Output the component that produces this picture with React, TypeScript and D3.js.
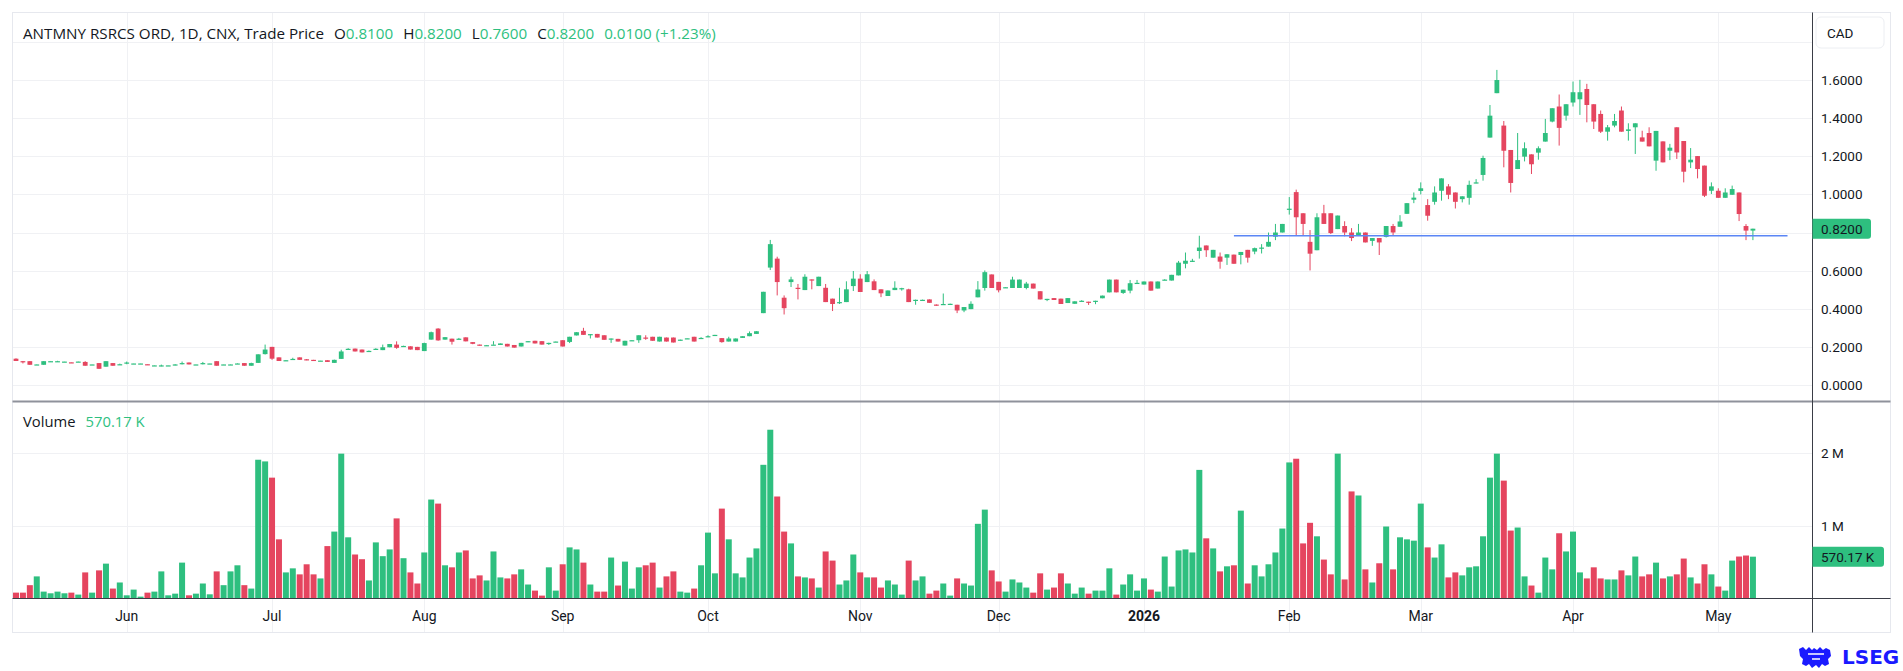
import * as d3 from "d3";

// OHLC values, one per trading day (8 May 2025 .. 8 May 2026)
const opens = [
  0.138, 0.125, 0.125, 0.107, 0.106, 0.124, 0.124, 0.122, 0.119, 0.122,
  0.121, 0.107, 0.115, 0.096, 0.115, 0.108, 0.117, 0.112, 0.112, 0.109,
  0.102, 0.102, 0.102, 0.103, 0.114, 0.118, 0.107, 0.114, 0.112, 0.125,
  0.107, 0.107, 0.112, 0.115, 0.101, 0.116, 0.162, 0.2, 0.145, 0.129,
  0.136, 0.145, 0.135, 0.132, 0.127, 0.13, 0.116, 0.137, 0.188, 0.191,
  0.186, 0.178, 0.189, 0.183, 0.198, 0.212, 0.204, 0.203, 0.2, 0.178,
  0.238, 0.296, 0.238, 0.243, 0.242, 0.25, 0.225, 0.212,
  0.208, 0.211, 0.21, 0.216, 0.21, 0.202, 0.225, 0.232, 0.23, 0.22,
  0.226, 0.235, 0.226, 0.26, 0.284, 0.265, 0.268, 0.261, 0.243, 0.242,
  0.207, 0.232, 0.235, 0.249, 0.253, 0.228, 0.249, 0.249, 0.233, 0.244,
  0.253, 0.246, 0.251, 0.258, 0.246, 0.228, 0.228, 0.247, 0.256, 0.268,
  0.377, 0.616, 0.663, 0.458, 0.54, 0.51, 0.498, 0.554, 0.519, 0.51,
  0.453, 0.43, 0.435, 0.519, 0.558, 0.54, 0.544, 0.502, 0.467, 0.498,
  0.505, 0.502, 0.446, 0.446, 0.449, 0.422,
  0.421, 0.425, 0.421, 0.391, 0.398, 0.46, 0.509, 0.58, 0.541, 0.51,
  0.509, 0.509, 0.509, 0.532, 0.492, 0.449, 0.456, 0.453, 0.43, 0.426,
  0.44, 0.437, 0.441, 0.455, 0.486, 0.553, 0.483, 0.495, 0.535, 0.527,
  0.543, 0.506, 0.552, 0.548, 0.575, 0.636, 0.651, 0.703, 0.732, 0.668,
  0.674, 0.668, 0.684, 0.682, 0.709, 0.7, 0.72, 0.726, 0.778, 0.8,
  0.923, 1.012, 0.901, 0.751, 0.707, 0.901, 0.901, 0.818, 0.834, 0.8,
  0.783, 0.8, 0.756, 0.771, 0.777, 0.834, 0.83, 0.898,
  0.972, 1.018, 0.944, 0.961, 1.019, 1.042, 1.01, 0.975, 0.982, 1.058,
  1.102, 1.298, 1.531, 1.361, 1.233, 1.133, 1.198, 1.21, 1.219, 1.277,
  1.382, 1.461, 1.413, 1.482, 1.499, 1.553, 1.473, 1.422, 1.329, 1.361,
  1.44, 1.333, 1.352, 1.299, 1.322, 1.177, 1.278, 1.229, 1.352, 1.28,
  1.168, 1.201, 1.151, 1.019, 1.019, 0.982, 0.998, 1.01, 0.834, 0.81,
];

const highs = [
  0.14, 0.126, 0.125, 0.108, 0.125, 0.126, 0.127, 0.123, 0.119, 0.124,
  0.125, 0.108, 0.115, 0.125, 0.115, 0.112, 0.123, 0.113, 0.113, 0.109,
  0.103, 0.107, 0.103, 0.109, 0.123, 0.118, 0.108, 0.121, 0.113, 0.125,
  0.108, 0.109, 0.115, 0.115, 0.117, 0.161, 0.212, 0.2, 0.145, 0.131,
  0.143, 0.145, 0.136, 0.132, 0.128, 0.13, 0.133, 0.185, 0.193, 0.191,
  0.186, 0.181, 0.193, 0.212, 0.215, 0.229, 0.206, 0.203, 0.2, 0.222,
  0.28, 0.298, 0.251, 0.243, 0.247, 0.25, 0.225, 0.212,
  0.21, 0.23, 0.218, 0.216, 0.21, 0.221, 0.23, 0.232, 0.23, 0.222,
  0.228, 0.235, 0.253, 0.277, 0.3, 0.267, 0.268, 0.261, 0.244, 0.242,
  0.232, 0.235, 0.261, 0.261, 0.253, 0.253, 0.249, 0.249, 0.238, 0.245,
  0.253, 0.251, 0.261, 0.263, 0.246, 0.253, 0.244, 0.256, 0.281, 0.282,
  0.489, 0.761, 0.673, 0.47, 0.568, 0.53, 0.581, 0.554, 0.568, 0.53,
  0.453, 0.51, 0.544, 0.598, 0.581, 0.598, 0.554, 0.502, 0.496, 0.544,
  0.51, 0.505, 0.448, 0.448, 0.449, 0.423,
  0.48, 0.427, 0.421, 0.409, 0.439, 0.545, 0.601, 0.58, 0.541, 0.513,
  0.568, 0.553, 0.541, 0.532, 0.492, 0.452, 0.456, 0.453, 0.456, 0.439,
  0.445, 0.437, 0.442, 0.469, 0.553, 0.553, 0.5, 0.551, 0.551, 0.543,
  0.543, 0.543, 0.555, 0.578, 0.651, 0.695, 0.662, 0.783, 0.732, 0.709,
  0.695, 0.686, 0.684, 0.698, 0.709, 0.721, 0.739, 0.8, 0.845, 0.845,
  0.986, 1.025, 0.901, 0.813, 0.901, 0.945, 0.901, 0.889, 0.859, 0.823,
  0.845, 0.8, 0.771, 0.771, 0.834, 0.845, 0.891, 0.954,
  1.01, 1.063, 0.975, 1.042, 1.084, 1.054, 1.01, 0.99, 1.072, 1.08,
  1.203, 1.469, 1.653, 1.385, 1.233, 1.322, 1.273, 1.21, 1.252, 1.396,
  1.452, 1.524, 1.473, 1.592, 1.601, 1.58, 1.473, 1.44, 1.364, 1.422,
  1.461, 1.373, 1.373, 1.334, 1.352, 1.333, 1.278, 1.265, 1.352, 1.28,
  1.243, 1.201, 1.151, 1.063, 1.032, 1.032, 1.046, 1.01, 0.844, 0.82,
];

const lows = [
  0.126, 0.113, 0.106, 0.106, 0.106, 0.124, 0.122, 0.122, 0.117, 0.122,
  0.101, 0.107, 0.085, 0.096, 0.101, 0.106, 0.109, 0.112, 0.112, 0.107,
  0.101, 0.098, 0.102, 0.103, 0.108, 0.108, 0.107, 0.108, 0.112, 0.101,
  0.107, 0.107, 0.112, 0.101, 0.101, 0.116, 0.16, 0.132, 0.126, 0.128,
  0.135, 0.132, 0.13, 0.127, 0.127, 0.121, 0.116, 0.137, 0.186, 0.176,
  0.171, 0.177, 0.187, 0.183, 0.198, 0.19, 0.204, 0.186, 0.183, 0.178,
  0.238, 0.232, 0.238, 0.212, 0.238, 0.229, 0.214, 0.207,
  0.207, 0.211, 0.21, 0.202, 0.196, 0.202, 0.225, 0.218, 0.212, 0.21,
  0.226, 0.202, 0.22, 0.26, 0.263, 0.244, 0.249, 0.237, 0.221, 0.228,
  0.207, 0.232, 0.221, 0.237, 0.232, 0.228, 0.228, 0.223, 0.233, 0.243,
  0.228, 0.246, 0.251, 0.258, 0.222, 0.228, 0.228, 0.247, 0.256, 0.268,
  0.377, 0.603, 0.47, 0.37, 0.514, 0.449, 0.498, 0.502, 0.519, 0.435,
  0.388, 0.425, 0.435, 0.493, 0.488, 0.54, 0.498, 0.461, 0.467, 0.498,
  0.495, 0.435, 0.421, 0.446, 0.431, 0.416,
  0.421, 0.425, 0.377, 0.382, 0.398, 0.46, 0.495, 0.509, 0.486, 0.51,
  0.509, 0.509, 0.502, 0.506, 0.449, 0.44, 0.446, 0.425, 0.43, 0.426,
  0.439, 0.42, 0.424, 0.455, 0.486, 0.486, 0.478, 0.481, 0.53, 0.527,
  0.495, 0.506, 0.55, 0.548, 0.575, 0.612, 0.646, 0.663, 0.672, 0.668,
  0.61, 0.63, 0.636, 0.633, 0.642, 0.686, 0.69, 0.726, 0.76, 0.8,
  0.894, 0.783, 0.783, 0.601, 0.707, 0.845, 0.792, 0.818, 0.78, 0.755,
  0.783, 0.748, 0.73, 0.682, 0.774, 0.783, 0.83, 0.898,
  0.954, 1.0, 0.862, 0.946, 0.967, 0.975, 0.926, 0.958, 0.946, 1.058,
  1.072, 1.298, 1.531, 1.142, 1.01, 1.133, 1.173, 1.107, 1.182, 1.277,
  1.378, 1.256, 1.387, 1.461, 1.417, 1.378, 1.343, 1.322, 1.282, 1.352,
  1.329, 1.282, 1.212, 1.277, 1.252, 1.124, 1.168, 1.18, 1.186, 1.063,
  1.138, 1.084, 0.986, 1.002, 0.982, 0.982, 0.998, 0.86, 0.76, 0.76,
];

const closes = [
  0.126, 0.122, 0.106, 0.108, 0.125, 0.125, 0.125, 0.123, 0.118, 0.123,
  0.101, 0.108, 0.085, 0.125, 0.101, 0.109, 0.118, 0.113, 0.113, 0.108,
  0.103, 0.103, 0.103, 0.108, 0.115, 0.108, 0.108, 0.115, 0.113, 0.101,
  0.108, 0.108, 0.113, 0.101, 0.115, 0.161, 0.186, 0.138, 0.126, 0.13,
  0.137, 0.132, 0.13, 0.127, 0.128, 0.121, 0.132, 0.176, 0.19, 0.176,
  0.171, 0.179, 0.19, 0.198, 0.215, 0.195, 0.205, 0.186, 0.183, 0.22,
  0.277, 0.234, 0.251, 0.227, 0.243, 0.229, 0.216, 0.207,
  0.209, 0.212, 0.218, 0.202, 0.196, 0.221, 0.23, 0.218, 0.212, 0.221,
  0.228, 0.202, 0.253, 0.277, 0.263, 0.267, 0.249, 0.237, 0.244, 0.228,
  0.232, 0.235, 0.261, 0.246, 0.232, 0.253, 0.228, 0.223, 0.238, 0.245,
  0.228, 0.247, 0.256, 0.263, 0.225, 0.244, 0.244, 0.256, 0.272, 0.282,
  0.489, 0.739, 0.54, 0.403, 0.554, 0.508, 0.568, 0.548, 0.568, 0.435,
  0.425, 0.435, 0.502, 0.558, 0.488, 0.581, 0.498, 0.481, 0.496, 0.51,
  0.508, 0.435, 0.447, 0.447, 0.431, 0.417,
  0.425, 0.426, 0.391, 0.409, 0.426, 0.501, 0.592, 0.509, 0.497, 0.513,
  0.553, 0.553, 0.532, 0.506, 0.449, 0.452, 0.446, 0.425, 0.456, 0.439,
  0.442, 0.434, 0.442, 0.469, 0.553, 0.486, 0.5, 0.534, 0.536, 0.543,
  0.495, 0.543, 0.553, 0.578, 0.642, 0.652, 0.652, 0.721, 0.707, 0.709,
  0.647, 0.686, 0.636, 0.698, 0.668, 0.718, 0.721, 0.751, 0.8, 0.845,
  0.925, 0.88, 0.845, 0.689, 0.88, 0.845, 0.797, 0.889, 0.8, 0.771,
  0.8, 0.748, 0.771, 0.748, 0.834, 0.8, 0.858, 0.954,
  0.983, 1.032, 0.888, 1.01, 1.084, 0.998, 0.961, 0.99, 1.05, 1.063,
  1.191, 1.413, 1.6, 1.229, 1.06, 1.18, 1.242, 1.158, 1.242, 1.322,
  1.452, 1.349, 1.473, 1.536, 1.536, 1.469, 1.382, 1.329, 1.352, 1.385,
  1.329, 1.341, 1.373, 1.277, 1.252, 1.333, 1.168, 1.245, 1.22, 1.119,
  1.182, 1.133, 0.993, 1.042, 0.982, 1.01, 1.028, 0.897, 0.81, 0.82,
];

// volume in millions of shares
const volumes = [
  0.074, 0.074, 0.177, 0.298, 0.088, 0.065, 0.088, 0.065, 0.074, 0.047,
  0.353, 0.074, 0.381, 0.474, 0.13, 0.214, 0.037, 0.116, 0.019, 0.074,
  0.088, 0.367, 0.037, 0.06, 0.488, 0.037, 0.06, 0.2, 0.051, 0.367,
  0.177, 0.367, 0.451, 0.177, 0.13, 1.907, 1.884, 1.66, 0.809, 0.353,
  0.409, 0.326, 0.465, 0.326, 0.27, 0.716, 0.916, 1.991, 0.837, 0.6,
  0.535, 0.242, 0.767, 0.577, 0.67, 1.098, 0.549, 0.353, 0.2, 0.628,
  1.358, 1.302, 0.451, 0.423, 0.628, 0.656, 0.27, 0.312,
  0.242, 0.642, 0.284, 0.27, 0.326, 0.395, 0.186, 0.102, 0.033, 0.423,
  0.102, 0.465, 0.698, 0.67, 0.488, 0.186, 0.088, 0.088, 0.558, 0.172,
  0.502, 0.13, 0.423, 0.451, 0.488, 0.144, 0.298, 0.367, 0.088, 0.074,
  0.13, 0.451, 0.902, 0.34, 1.233, 0.809, 0.34, 0.284, 0.558, 0.684,
  1.837, 2.321, 1.4, 0.916, 0.753, 0.298, 0.284, 0.27, 0.144, 0.642,
  0.516, 0.186, 0.242, 0.6, 0.353, 0.284, 0.284, 0.144, 0.242, 0.186,
  0.047, 0.516, 0.242, 0.298, 0.06, 0.102,
  0.2, 0.033, 0.27, 0.2, 0.172, 1.023, 1.219, 0.381, 0.228, 0.088,
  0.256, 0.214, 0.144, 0.074, 0.34, 0.116, 0.144, 0.34, 0.2, 0.06,
  0.144, 0.06, 0.102, 0.102, 0.409, 0.047, 0.186, 0.326, 0.102, 0.27,
  0.116, 0.088, 0.572, 0.158, 0.656, 0.67, 0.628, 1.767, 0.823, 0.684,
  0.367, 0.437, 0.451, 1.205, 0.2, 0.451, 0.298, 0.465, 0.628, 0.958,
  1.87, 1.921, 0.753, 1.037, 0.851, 0.53, 0.326, 1.991, 0.256, 1.47,
  1.414, 0.395, 0.214, 0.479, 0.986, 0.395, 0.837, 0.809,
  0.791, 1.302, 0.698, 0.558, 0.74, 0.284, 0.353, 0.312, 0.423, 0.437,
  0.851, 1.66, 1.991, 1.619, 0.93, 0.972, 0.298, 0.172, 0.074, 0.558,
  0.395, 0.893, 0.642, 0.916, 0.353, 0.27, 0.423, 0.27, 0.256, 0.256,
  0.381, 0.312, 0.572, 0.298, 0.326, 0.488, 0.27, 0.298, 0.326, 0.544,
  0.284, 0.2, 0.465, 0.326, 0.158, 0.102, 0.516, 0.572, 0.586, 0.57,
];

// time axis: first trading day of each month
const monthLabels = ["Jun", "Jul", "Aug", "Sep", "Oct", "Nov", "Dec", "2026", "Feb", "Mar", "Apr", "May"];
const monthIndex = [16, 37, 59, 79, 100, 122, 142, 163, 184, 203, 225, 246];

const priceTicks = [0, 0.2, 0.4, 0.6, 0.8, 1.0, 1.2, 1.4, 1.6];
const priceGrid = [0, 0.2, 0.4, 0.6, 0.8, 1.0, 1.2, 1.4, 1.6, 1.8];
const volumeTicks = [1, 2];

// horizontal line drawn on the chart
const levelPrice = 0.783;
const levelFrom = 176;
const levelTo = 256;

const lastVolumeText = "570.17 K";

const GREEN = "#2ebf7f";
const RED = "#e5455f";
const TEXT = "#131722";
const GRID = "#f0f1f4";
const FONT = "Roboto, 'Liberation Sans', sans-serif";
const LEGEND_FONT = "'Open Sans', Roboto, sans-serif";

export default function App() {
  const W = 1903;
  const H = 671;
  const left = 12.5;
  const right = 1890.5;
  const axisX = 1812.5;
  const top = 12.5;
  const bottom = 632.5;
  const paneSplit = 401.5;
  const volBase = 598;

  const n = closes.length;
  const x = d3.scaleLinear().domain([0, n - 1]).range([16, 16 + 6.92 * (n - 1)]);
  const yP = d3.scaleLinear().domain([0, 1.8]).range([385, 41.9]);
  const yV = d3.scaleLinear().domain([0, 2]).range([volBase, 453]);
  const f4 = d3.format(".4f");

  const candles = closes.map((c, i) => ({
    i,
    o: opens[i],
    h: highs[i],
    l: lows[i],
    c,
    v: volumes[i],
    up: c >= opens[i],
  }));

  const last = candles[n - 1];
  const lastY = yP(last.c);
  const lastVY = yV(last.v);

  return (
    <svg
      width={W}
      height={H}
      style={{ position: "absolute", left: 0, top: 0, display: "block", background: "#fff" }}
      fontFamily={FONT}
    >
      {/* grid */}
      {priceGrid.map((p) => (
        <line key={"pg" + p} x1={left} x2={axisX} y1={Math.round(yP(p)) + 0.5} y2={Math.round(yP(p)) + 0.5} stroke={GRID} />
      ))}
      {volumeTicks.map((v) => (
        <line key={"vg" + v} x1={left} x2={axisX} y1={Math.round(yV(v)) + 0.5} y2={Math.round(yV(v)) + 0.5} stroke={GRID} />
      ))}
      {monthIndex.map((mi) => (
        <line key={"mg" + mi} x1={Math.round(x(mi)) + 0.5} x2={Math.round(x(mi)) + 0.5} y1={top} y2={bottom} stroke={GRID} />
      ))}

      {/* frame */}
      <rect x={left} y={top} width={right - left} height={bottom - top} fill="none" stroke="#e6e8ee" />
      <line x1={left} x2={right} y1={paneSplit} y2={paneSplit} stroke="#8f929b" strokeWidth={2} />
      <line x1={left} x2={right} y1={volBase + 0.5} y2={volBase + 0.5} stroke="#3a3d46" />
      <line x1={axisX} x2={axisX} y1={top} y2={bottom} stroke="#3a3d46" />

      {/* volume bars */}
      {candles.map((d) => (
        <rect
          key={"v" + d.i}
          x={x(d.i) - 3}
          y={yV(d.v)}
          width={6}
          height={volBase - yV(d.v)}
          fill={d.up ? GREEN : RED}
        />
      ))}

      {/* candles */}
      {candles.map((d) => {
        const col = d.up ? GREEN : RED;
        const yo = yP(d.o);
        const yc = yP(d.c);
        const bt = Math.min(yo, yc);
        const bh = Math.max(1.2, Math.abs(yo - yc));
        return (
          <g key={"c" + d.i}>
            <line x1={x(d.i)} x2={x(d.i)} y1={yP(d.h)} y2={yP(d.l)} stroke={col} strokeWidth={1} />
            <rect x={x(d.i) - 2.4} y={bt} width={4.8} height={bh} fill={col} />
          </g>
        );
      })}

      {/* horizontal level */}
      <line
        x1={x(levelFrom)}
        x2={x(levelTo)}
        y1={yP(levelPrice)}
        y2={yP(levelPrice)}
        stroke="#5b86f5"
        strokeWidth={1.6}
      />

      {/* price axis */}
      <rect x={1816} y={17} width={68} height={31} rx={5} fill="#fff" stroke="#eceef2" />
      <text x={1827} y={33} dominantBaseline="central" fontSize={13.5} fill={TEXT}>
        CAD
      </text>
      {priceTicks.map((p) => (
        <text key={"pt" + p} x={1821} y={yP(p)} dominantBaseline="central" fontSize={13.5} fill={TEXT}>
          {f4(p)}
        </text>
      ))}
      <path
        d={`M${axisX},${lastY - 10} H1868 a3,3 0 0 1 3,3 V${lastY + 7} a3,3 0 0 1 -3,3 H${axisX} Z`}
        fill={GREEN}
      />
      <text x={1821} y={lastY} dominantBaseline="central" fontSize={13.5} fill={TEXT}>
        {f4(last.c)}
      </text>

      {/* volume axis */}
      {volumeTicks.map((v) => (
        <text key={"vt" + v} x={1821} y={yV(v)} dominantBaseline="central" fontSize={13.5} fill={TEXT}>
          {v + " M"}
        </text>
      ))}
      <path
        d={`M${axisX},${lastVY - 10} H1881 a3,3 0 0 1 3,3 V${lastVY + 7} a3,3 0 0 1 -3,3 H${axisX} Z`}
        fill={GREEN}
      />
      <text x={1821} y={lastVY} dominantBaseline="central" fontSize={13.5} fill={TEXT}>
        {lastVolumeText}
      </text>

      {/* time axis */}
      {monthLabels.map((m, k) => (
        <text
          key={"m" + m}
          x={x(monthIndex[k])}
          y={616}
          textAnchor="middle"
          dominantBaseline="central"
          fontSize={14}
          fontWeight={m === "2026" ? 700 : 400}
          fill={TEXT}
        >
          {m}
        </text>
      ))}

      {/* legends */}
      <text x={23} y={39} fontSize={15.2} fill={TEXT} fontFamily={LEGEND_FONT}>
        <tspan>ANTMNY RSRCS ORD, 1D, CNX, Trade Price</tspan>
        <tspan dx={10}>O</tspan>
        <tspan fill={GREEN}>{f4(last.o)}</tspan>
        <tspan dx={10}>H</tspan>
        <tspan fill={GREEN}>{f4(last.h)}</tspan>
        <tspan dx={10}>L</tspan>
        <tspan fill={GREEN}>{f4(last.l)}</tspan>
        <tspan dx={10}>C</tspan>
        <tspan fill={GREEN}>{f4(last.c)}</tspan>
        <tspan dx={10} fill={GREEN}>0.0100 (+1.23%)</tspan>
      </text>
      <text x={23} y={427} fontSize={14.8} fill={TEXT} fontFamily={LEGEND_FONT}>
        <tspan>Volume</tspan>
        <tspan dx={10} fill={GREEN}>{lastVolumeText}</tspan>
      </text>

      {/* LSEG mark */}
      <g fill="#1a1aff">
        <path d="M1799,649 l4,-2 l3,3 l3,-3 l3,3 l2,-2 l3,2 l3,-3 l3,3 l3,-2 l4,2 l1,6 l-3,3 l1,5 l-4,2 l-3,-2 l-3,4 l-3,-3 l-4,3 l-3,-4 l-3,2 l-4,-2 l1,-5 l-3,-3 z" />
        <text x={1842} y={657} dominantBaseline="central" fontSize={20} fontWeight={700} fontFamily="'DejaVu Sans', sans-serif">
          LSEG
        </text>
      </g>
      <path d="M1808,654 h16 M1812,659 h8" stroke="#fff" strokeWidth={1.5} />
    </svg>
  );
}
